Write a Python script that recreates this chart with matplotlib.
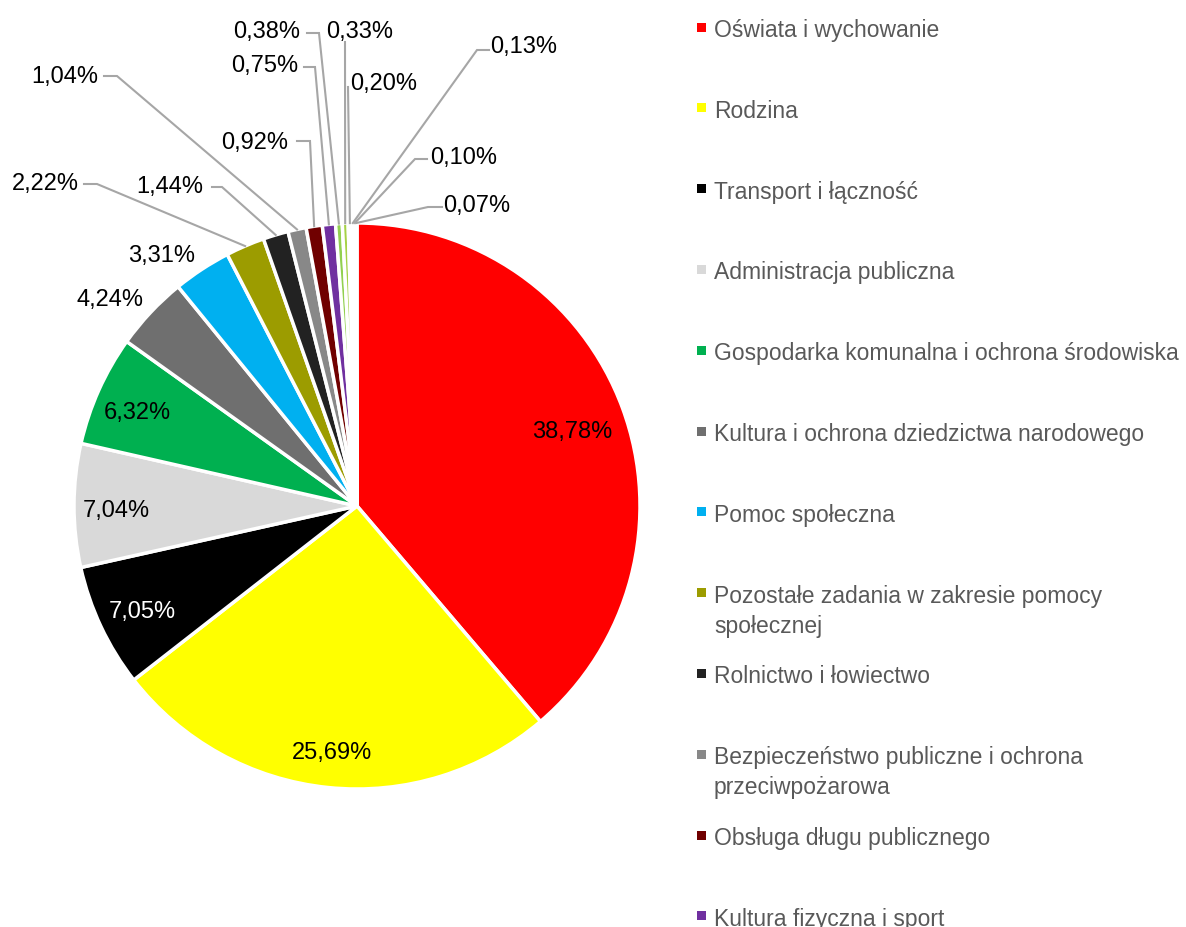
import textwrap
import numpy as np
import matplotlib
matplotlib.use("Agg")
import matplotlib.pyplot as plt
from matplotlib.patches import Rectangle

plt.rcParams['font.family'] = ['Liberation Sans', 'DejaVu Sans']

# udział wydatków w budżecie (%)
values = [38.78, 25.69, 7.05, 7.04, 6.32, 4.24, 3.31, 2.22, 1.44, 1.04,
          0.92, 0.75, 0.38, 0.33, 0.20, 0.13, 0.10, 0.07]
colors = ['#FF0000', '#FFFF00', '#000000', '#D9D9D9', '#00B050', '#6F6F6F',
          '#00B0F0', '#9C9C00', '#222222', '#888888', '#700000', '#7030A0',
          '#92D050', '#A6D246', '#F4F4F4', '#F7F7F7', '#F9F9F9', '#FBFBFB']
names = ['Oświata i wychowanie',
         'Rodzina',
         'Transport i łączność',
         'Administracja publiczna',
         'Gospodarka komunalna i ochrona środowiska',
         'Kultura i ochrona dziedzictwa narodowego',
         'Pomoc społeczna',
         'Pozostałe zadania w zakresie pomocy społecznej',
         'Rolnictwo i łowiectwo',
         'Bezpieczeństwo publiczne i ochrona przeciwpożarowa',
         'Obsługa długu publicznego',
         'Kultura fizyczna i sport']

W, H = 1186, 928
CX, CY, R = 357, 507, 283
DY = 4  # korekta pionowa tekstu (przecinek obniża środek ramki)

fig = plt.figure(figsize=(W / 100, H / 100), dpi=100)
ax = fig.add_axes([(CX - R) / W, (H - CY - R) / H, 2 * R / W, 2 * R / H])


def px(x, y):
    # piksele obrazka -> współrzędne osi koła
    return (x - CX) / R, (CY - y) / R


wedges, _ = ax.pie(values, colors=colors, startangle=90, counterclock=False,
                   radius=1, wedgeprops=dict(edgecolor='white', linewidth=2.5))
ax.set_xlim(-1, 1)
ax.set_ylim(-1, 1)
ax.set_aspect('equal')
ax.axis('off')


def fmt(v):
    return f"{v:.2f}".replace('.', ',') + '%'


def mid(w):
    return np.deg2rad((w.theta1 + w.theta2) / 2)


# etykiety wewnątrz wycinków
inside_dist = [0.81, 0.86, 0.84, 0.85, 0.85]
for i, d in enumerate(inside_dist):
    t = mid(wedges[i])
    col = 'white' if i == 2 else 'black'
    ax.text(d * np.cos(t), d * np.sin(t) - DY / R, fmt(values[i]),
            ha='center', va='center', fontsize=17, color=col)

# etykiety na zewnątrz: środek tekstu, początek linii, załamanie linii
outside = {
    5: ((110, 296), None, None),
    6: ((162, 252), None, None),
    7: ((45, 180), (84, 185), (97, 185)),
    8: ((170, 183), (212, 188), (222, 188)),
    9: ((65, 73), (104, 77), (117, 77)),
    10: ((255, 139), (297, 142), (310, 142)),
    11: ((265, 62), (304, 68), (315, 68)),
    12: ((267, 28), (307, 34), (319, 34)),
    13: ((360, 28), (345, 43), (345, 43)),
    14: ((384, 80), (348, 88), (348, 88)),
    15: ((524, 43), (489, 51), (477, 51)),
    16: ((464, 154), (427, 160), (415, 160)),
    17: ((477, 202), (442, 208), (428, 208)),
}
for i, (tpos, start, elbow) in outside.items():
    tx, ty = px(tpos[0], tpos[1] + DY)
    ax.text(tx, ty, fmt(values[i]), ha='center', va='center', fontsize=17,
            color='black', clip_on=False)
    if start is None:
        continue
    t = mid(wedges[i])
    ex, ey = np.cos(t), np.sin(t)
    sx, sy = px(*start)
    bx, by = px(*elbow)
    ax.plot([sx, bx, ex], [sy, by, ey], color='#A6A6A6', lw=1.5,
            clip_on=False, solid_joinstyle='miter')

# legenda
for i, name in enumerate(names):
    y = 28 + 80.8 * i
    fig.patches.append(Rectangle((697 / W, 1 - (y + 4.5) / H), 9 / W, 9 / H,
                                 transform=fig.transFigure,
                                 facecolor=colors[i], edgecolor='none'))
    for k, line in enumerate(textwrap.wrap(name, 41)):
        fig.text(714 / W, 1 - (y + 30 * k) / H, line, ha='left',
                 va='center_baseline', fontsize=16.5, color='#595959')

fig.savefig('out.png', dpi=100)
